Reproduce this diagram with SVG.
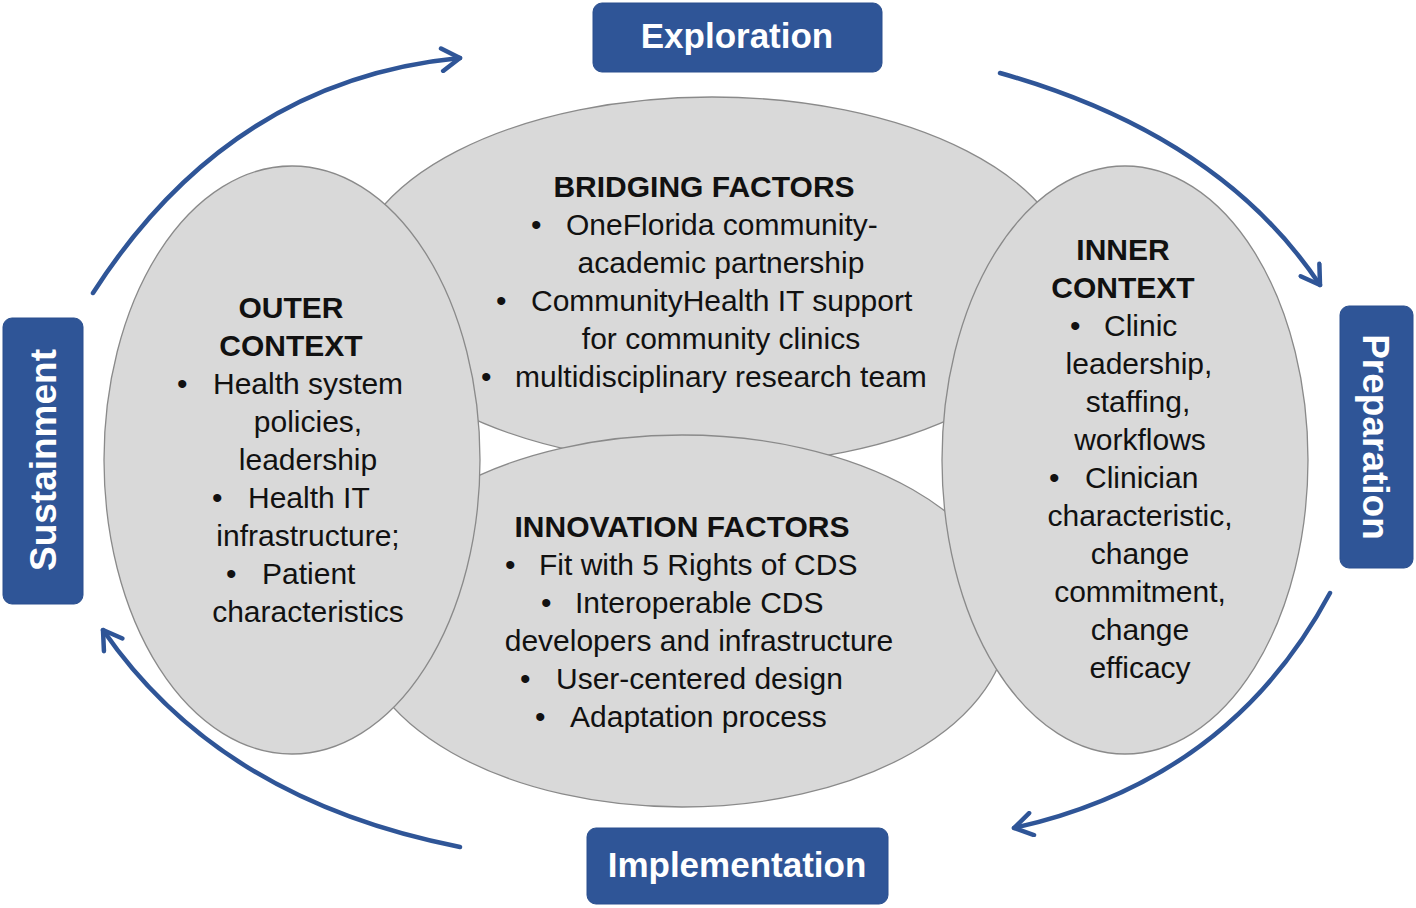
<svg xmlns="http://www.w3.org/2000/svg" width="1416" height="908" viewBox="0 0 1416 908">
<style>
.ell{fill:#D9D9D9;stroke:#8A8A8A;stroke-width:1.3}
.t{font-family:"Liberation Sans",Arial,sans-serif;font-size:30px;fill:#111}
.b{font-weight:bold}
.m{text-anchor:middle}
.box{fill:#2F5597;stroke:#2A4F8E;stroke-width:1}
.bl{font-family:"Liberation Sans",Arial,sans-serif;font-size:35px;font-weight:bold;fill:#fff;text-anchor:middle}
.v{font-size:37px}
.arr{fill:none;stroke:#2F5597;stroke-width:4.5;stroke-linecap:round}
</style>
<defs>
<marker id="ah" viewBox="0 0 12 12" refX="10" refY="6" markerWidth="6" markerHeight="6" markerUnits="strokeWidth" orient="auto">
<path d="M2,1 L10,6 L2,11" fill="none" stroke="#2F5597" stroke-width="2" stroke-linecap="round" stroke-linejoin="round"/>
</marker>
</defs>
<rect width="1416" height="908" fill="#fff"/>

<g id="bridging">
<ellipse class="ell" cx="712" cy="281" rx="360" ry="184"/>
<text class="t b m" x="704" y="197">BRIDGING FACTORS</text>
<text class="t" x="531" y="235">•</text><text class="t" x="566" y="235">OneFlorida community-</text>
<text class="t m" x="721" y="273">academic partnership</text>
<text class="t" x="496" y="311">•</text><text class="t" x="531" y="311">CommunityHealth IT support</text>
<text class="t m" x="721" y="349">for community clinics</text>
<text class="t" x="481" y="387">•</text><text class="t" x="515" y="387">multidisciplinary research team</text>
</g>

<g id="innovation">
<ellipse class="ell" cx="682" cy="621" rx="326" ry="186"/>
<text class="t b m" x="682" y="537">INNOVATION FACTORS</text>
<text class="t" x="505" y="575">•</text><text class="t" x="539" y="575">Fit with 5 Rights of CDS</text>
<text class="t" x="541" y="613">•</text><text class="t" x="575" y="613">Interoperable CDS</text>
<text class="t m" x="699" y="651">developers and infrastructure</text>
<text class="t" x="520" y="689">•</text><text class="t" x="556" y="689">User-centered design</text>
<text class="t" x="535" y="727">•</text><text class="t" x="570" y="727">Adaptation process</text>
</g>

<g id="outer">
<ellipse class="ell" cx="292" cy="460" rx="188" ry="294"/>
<text class="t b m" x="291" y="318">OUTER</text>
<text class="t b m" x="291" y="356">CONTEXT</text>
<text class="t" x="177" y="394">•</text><text class="t" x="213" y="394">Health system</text>
<text class="t m" x="308" y="432">policies,</text>
<text class="t m" x="308" y="470">leadership</text>
<text class="t" x="212" y="508">•</text><text class="t" x="248" y="508">Health IT</text>
<text class="t m" x="308" y="546">infrastructure;</text>
<text class="t" x="226" y="584">•</text><text class="t" x="262" y="584">Patient</text>
<text class="t m" x="308" y="622">characteristics</text>
</g>

<g id="inner">
<ellipse class="ell" cx="1125" cy="460" rx="183" ry="294"/>
<text class="t b m" x="1123" y="260">INNER</text>
<text class="t b m" x="1123" y="298">CONTEXT</text>
<text class="t" x="1070" y="336">•</text><text class="t" x="1104" y="336">Clinic</text>
<text class="t m" x="1139" y="374">leadership,</text>
<text class="t m" x="1138" y="412">staffing,</text>
<text class="t m" x="1140" y="450">workflows</text>
<text class="t" x="1049" y="488">•</text><text class="t" x="1085" y="488">Clinician</text>
<text class="t m" x="1140" y="526">characteristic,</text>
<text class="t m" x="1140" y="564">change</text>
<text class="t m" x="1140" y="602">commitment,</text>
<text class="t m" x="1140" y="640">change</text>
<text class="t m" x="1140" y="678">efficacy</text>
</g>

<g id="exploration">
<rect class="box" x="593" y="3" width="289" height="69" rx="9"/>
<text class="bl" x="737" y="48">Exploration</text>
</g>
<g id="preparation">
<rect class="box" x="1340" y="306" width="73" height="262" rx="9"/>
<text class="bl v" transform="translate(1376,437) rotate(90)" x="0" y="13">Preparation</text>
</g>
<g id="implementation">
<rect class="box" x="587" y="828" width="301" height="76" rx="9"/>
<text class="bl" x="737" y="877">Implementation</text>
</g>
<g id="sustainment">
<rect class="box" x="3" y="318" width="80" height="286" rx="9"/>
<text class="bl v" transform="translate(43,460) rotate(-90)" x="0" y="13">Sustainment</text>
</g>

<g id="connectors">
<path class="arr" d="M93,293 Q230,80 460,58" marker-end="url(#ah)"/>
<path class="arr" d="M1000,73 Q1220,135 1320,285" marker-end="url(#ah)"/>
<path class="arr" d="M1330,593 Q1230,780 1014,828" marker-end="url(#ah)"/>
<path class="arr" d="M460,847 Q220,800 103,630" marker-end="url(#ah)"/>
</g>
</svg>
